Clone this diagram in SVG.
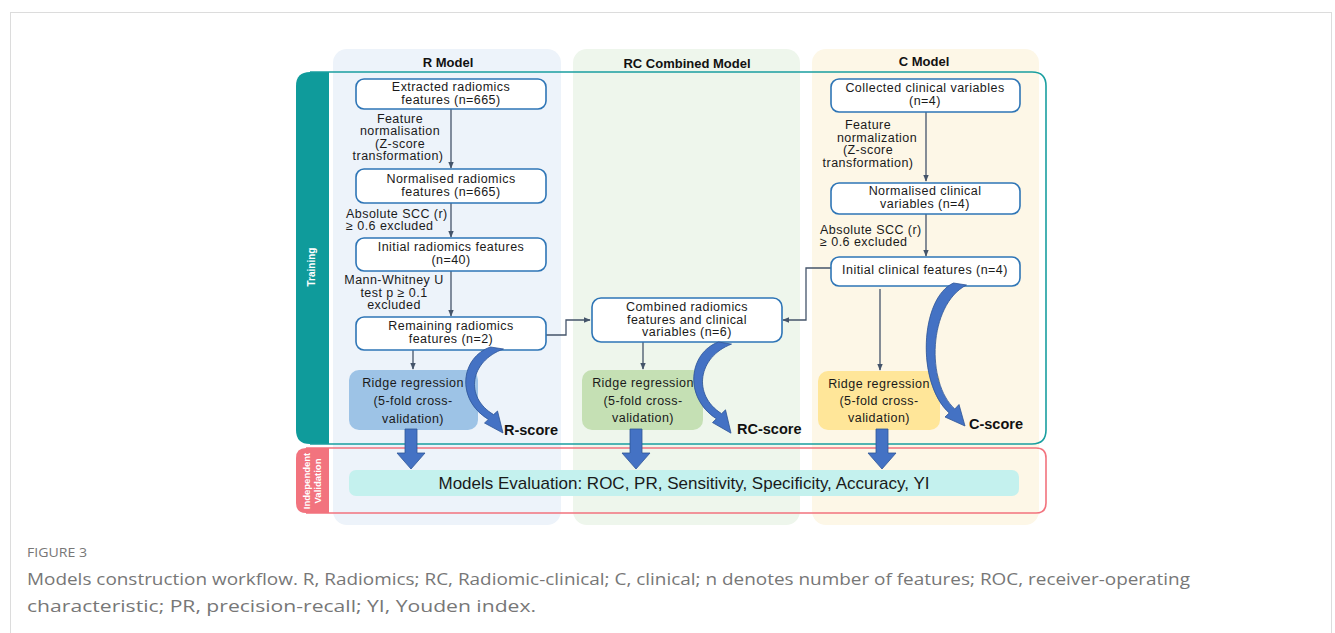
<svg xmlns="http://www.w3.org/2000/svg" width="1335" height="633" viewBox="0 0 1335 633">
<defs>
<style>
.t{font-family:"Liberation Sans",Arial,sans-serif;font-size:12.5px;letter-spacing:0.45px;fill:#1a1a1a;text-anchor:middle}
.tl{font-family:"Liberation Sans",Arial,sans-serif;font-size:12.5px;letter-spacing:0.45px;fill:#1a1a1a}
.title{font-family:"Liberation Sans",Arial,sans-serif;font-size:13px;font-weight:bold;fill:#111;text-anchor:middle}
.score{font-family:"Liberation Sans",Arial,sans-serif;font-size:14.5px;font-weight:bold;fill:#111}
.box{fill:#fff;stroke:#2e75b6;stroke-width:1.6}
.ln{fill:none;stroke:#44546a;stroke-width:1.3}
.blk{fill:#4472c4;stroke:#2f5597;stroke-width:0.8}
.side{font-family:"Liberation Sans",Arial,sans-serif;font-weight:bold;fill:#fff;text-anchor:middle}
.cap{font-family:"Open Sans","Liberation Sans",sans-serif;fill:#777}
</style>
<marker id="ah" viewBox="0 0 10 10" refX="9" refY="5" markerWidth="7" markerHeight="7" markerUnits="userSpaceOnUse" orient="auto">
<path d="M0,1 L10,5 L0,9 Z" fill="#44546a"/>
</marker>
<path id="curveR" d="M -6.5 0 C -36 10 -42 52 -8.6 72.4 L -12.5 76 L 6 86 L 0.5 64 L -3.4 67.6 C -33 50 -27 14 6.5 2 Z"/>
<path id="down" d="M -6 0 L 6 0 L 6 24 L 14 24 L 0 40 L -14 24 L -6 24 Z"/>
</defs>

<rect x="10.5" y="12.5" width="1321" height="640" fill="#fff" stroke="#dcdcdc" stroke-width="1"/>

<!-- column backgrounds -->
<g id="col-r"><rect x="333" y="49" width="228" height="476" rx="14" fill="#edf3fa"/><text class="title" x="448" y="67">R Model</text></g>
<g id="col-rc"><rect x="573" y="49" width="227" height="476" rx="14" fill="#eef6ec"/><text class="title" x="687" y="68">RC Combined Model</text></g>
<g id="col-c"><rect x="812" y="49" width="227" height="476" rx="14" fill="#fdf7e7"/><text class="title" x="924" y="66">C Model</text></g>

<!-- training frame -->
<g id="training">
<path d="M 310 72 L 329 72 L 329 444 L 310 444 Q 296 444 296 430 L 296 86 Q 296 72 310 72 Z" fill="#0f9b9b"/>
<path d="M 310 72 L 1032 72 Q 1046 72 1046 86 L 1046 430 Q 1046 444 1032 444 L 310 444" fill="none" stroke="#1a9fa0" stroke-width="1.6"/>
<text class="side" font-size="10" transform="translate(315,267) rotate(-90)">Training</text>
</g>

<!-- validation frame -->
<g id="validation">
<path d="M 306 448 L 329 448 L 329 513 L 306 513 Q 296 513 296 503 L 296 458 Q 296 448 306 448 Z" fill="#f2737e"/>
<path d="M 306 448 L 1036 448 Q 1046 448 1046 458 L 1046 503 Q 1046 513 1036 513 L 306 513" fill="none" stroke="#f2737e" stroke-width="1.6"/>
<text class="side" font-size="9.5" transform="translate(310,481) rotate(-90)">Independent</text>
<text class="side" font-size="9.5" transform="translate(321,481) rotate(-90)">Validation</text>
</g>

<!-- connectors -->
<g id="connectors">
<line class="ln" x1="451" y1="109" x2="451" y2="168" marker-end="url(#ah)"/>
<line class="ln" x1="451" y1="203" x2="451" y2="237" marker-end="url(#ah)"/>
<line class="ln" x1="451" y1="271" x2="451" y2="316" marker-end="url(#ah)"/>
<line class="ln" x1="413" y1="350" x2="413" y2="369" marker-end="url(#ah)"/>
<polyline class="ln" points="546,335 566,335 566,320 590,320" marker-end="url(#ah)"/>
<polyline class="ln" points="831,268 806,268 806,320 783,320" marker-end="url(#ah)"/>
<line class="ln" x1="643" y1="342" x2="643" y2="369" marker-end="url(#ah)"/>
<line class="ln" x1="926" y1="112" x2="926" y2="181" marker-end="url(#ah)"/>
<line class="ln" x1="926" y1="214" x2="926" y2="256" marker-end="url(#ah)"/>
<line class="ln" x1="880" y1="289" x2="880" y2="370" marker-end="url(#ah)"/>
</g>

<!-- R column nodes -->
<g id="r1"><rect class="box" x="356" y="79" width="190" height="30" rx="8"/><text class="t" x="451" y="91">Extracted radiomics</text><text class="t" x="451" y="104">features (n=665)</text></g>
<g id="lbl-r1"><text class="t" x="400" y="123">Feature</text><text class="t" x="400" y="135">normalisation</text><text class="t" x="400" y="148">(Z-score</text><text class="t" x="398" y="160">transformation)</text></g>
<g id="r2"><rect class="box" x="356" y="169" width="190" height="34" rx="8"/><text class="t" x="451" y="183">Normalised radiomics</text><text class="t" x="451" y="196">features (n=665)</text></g>
<g id="lbl-r2"><text class="tl" x="346" y="218">Absolute SCC (r)</text><text class="tl" x="346" y="230">≥ 0.6 excluded</text></g>
<g id="r3"><rect class="box" x="356" y="238" width="190" height="33" rx="8"/><text class="t" x="451" y="251">Initial radiomics features</text><text class="t" x="451" y="264">(n=40)</text></g>
<g id="lbl-r3"><text class="t" x="394" y="284">Mann-Whitney U</text><text class="t" x="394" y="297">test p ≥ 0.1</text><text class="t" x="394" y="309">excluded</text></g>
<g id="r4"><rect class="box" x="356" y="317" width="190" height="33" rx="8"/><text class="t" x="451" y="330">Remaining radiomics</text><text class="t" x="451" y="343">features (n=2)</text></g>
<g id="r5"><rect x="349" y="370" width="129" height="60" rx="10" fill="#9dc3e6"/><text class="t" x="413" y="387">Ridge regression</text><text class="t" x="413" y="405">(5-fold cross-</text><text class="t" x="413" y="423">validation)</text></g>

<!-- RC column nodes -->
<g id="rc1"><rect class="box" x="592" y="298" width="190" height="44" rx="9"/><text class="t" x="687" y="311">Combined radiomics</text><text class="t" x="687" y="324">features and clinical</text><text class="t" x="687" y="336">variables (n=6)</text></g>
<g id="rc2"><rect x="582" y="370" width="121" height="60" rx="10" fill="#c5e0b4"/><text class="t" x="643" y="387">Ridge regression</text><text class="t" x="643" y="405">(5-fold cross-</text><text class="t" x="643" y="422">validation)</text></g>

<!-- C column nodes -->
<g id="c1"><rect class="box" x="831" y="79" width="189" height="33" rx="8"/><text class="t" x="925" y="92">Collected clinical variables</text><text class="t" x="925" y="105">(n=4)</text></g>
<g id="lbl-c1"><text class="t" x="868" y="129">Feature</text><text class="t" x="877" y="142">normalization</text><text class="t" x="868" y="154">(Z-score</text><text class="t" x="868" y="167">transformation)</text></g>
<g id="c2"><rect class="box" x="831" y="183" width="189" height="31" rx="8"/><text class="t" x="925" y="195">Normalised clinical</text><text class="t" x="925" y="208">variables (n=4)</text></g>
<g id="lbl-c2"><text class="tl" x="820" y="234">Absolute SCC (r)</text><text class="tl" x="820" y="246">≥ 0.6 excluded</text></g>
<g id="c3"><rect class="box" x="831" y="257" width="189" height="29" rx="8"/><text class="t" x="925" y="274">Initial clinical features (n=4)</text></g>
<g id="c4"><rect x="818" y="371" width="122" height="59" rx="10" fill="#ffe699"/><text class="t" x="879" y="388">Ridge regression</text><text class="t" x="879" y="405">(5-fold cross-</text><text class="t" x="879" y="422">validation)</text></g>

<!-- curved score arrows -->
<g id="score-r"><use href="#curveR" transform="translate(497,347)" class="blk"/><text class="score" x="504" y="435">R-score</text></g>
<g id="score-rc"><use href="#curveR" transform="translate(725,342) scale(1,1.06)" class="blk"/><text class="score" x="737" y="434">RC-score</text></g>
<g id="score-c"><path class="blk" transform="translate(960,283)" d="M -6.5 0 C -40 15 -44 100 -10.8 130 L -15 134 L 5 143 L -1 121.5 L -5.2 126 C -34 100 -32 22 6.5 2 Z"/><text class="score" x="969" y="429">C-score</text></g>

<!-- block arrows to evaluation -->
<g id="down-arrows">
<use href="#down" class="blk" transform="translate(411,429)"/>
<use href="#down" class="blk" transform="translate(636,429)"/>
<use href="#down" class="blk" transform="translate(882,429)"/>
</g>

<g id="eval"><rect x="349" y="470" width="670" height="26" rx="7" fill="#c4f1ee"/>
<text x="684" y="489" font-family="Liberation Sans, Arial, sans-serif" font-size="17" fill="#1a1a1a" text-anchor="middle">Models Evaluation: ROC, PR, Sensitivity, Specificity, Accuracy, YI</text></g>

<g id="caption">
<text class="cap" x="27" y="557" font-size="12.5" textLength="60" lengthAdjust="spacingAndGlyphs">FIGURE 3</text>
<text class="cap" x="27" y="585" font-size="17" textLength="1163" lengthAdjust="spacingAndGlyphs">Models construction workflow. R, Radiomics; RC, Radiomic-clinical; C, clinical; n denotes number of features; ROC, receiver-operating</text>
<text class="cap" x="27" y="612" font-size="17" textLength="509" lengthAdjust="spacingAndGlyphs">characteristic; PR, precision-recall; YI, Youden index.</text>
</g>
</svg>
